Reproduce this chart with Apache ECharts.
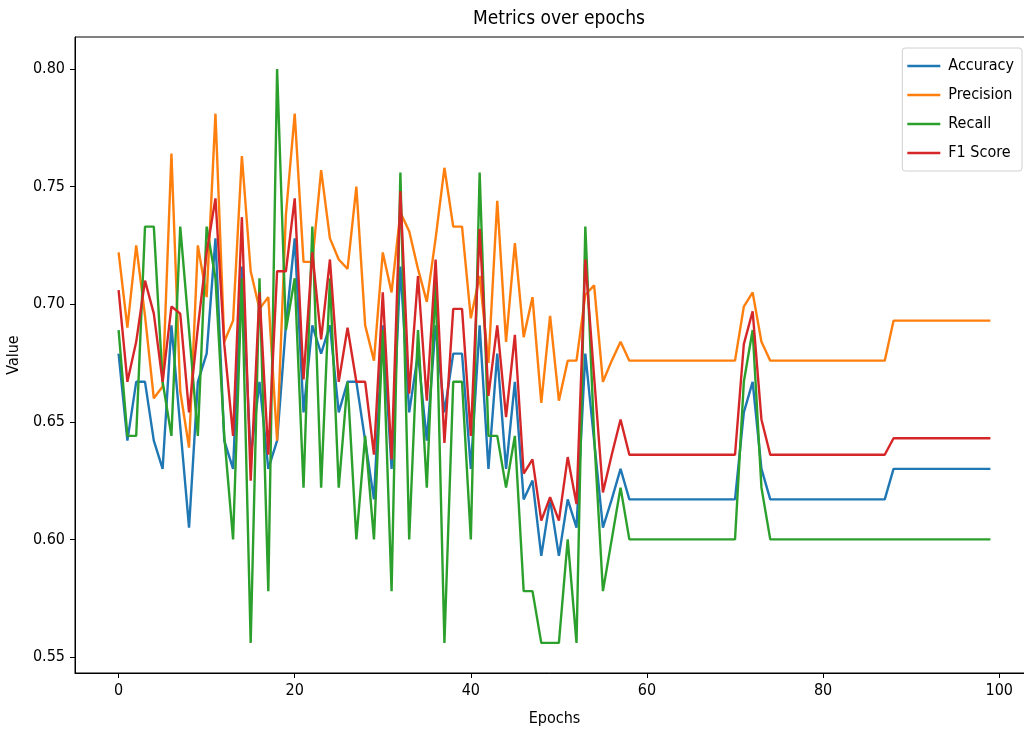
<!DOCTYPE html>
<html>
<head>
<meta charset="utf-8">
<title>Metrics over epochs</title>
<script src="https://cdn.jsdelivr.net/npm/echarts@6/dist/echarts.min.js"></script>
<style>
  html, body { margin: 0; padding: 0; background: #fff; }
  #chart { width: 1024px; height: 734px; }
</style>
</head>
<body>
<div id="chart"></div>
<script>
// values, one per epoch (0..99)
const seriesNames = ['Accuracy', 'Precision', 'Recall', 'F1 Score'];
const seriesColors = ['#1f77b4', '#ff7f0e', '#2ca02c', '#d62728'];

const accuracy = [
  0.679, 0.642, 0.667, 0.667, 0.642, 0.630, 0.691, 0.648, 0.605, 0.667,
  0.679, 0.728, 0.642, 0.630, 0.716, 0.635, 0.667, 0.630, 0.642, 0.691,
  0.728, 0.654, 0.691, 0.679, 0.691, 0.654, 0.667, 0.667, 0.642, 0.617,
  0.691, 0.630, 0.716, 0.654, 0.679, 0.642, 0.691, 0.654, 0.679, 0.679,
  0.630, 0.691, 0.630, 0.679, 0.630, 0.667, 0.617, 0.625, 0.593, 0.617,
  0.593, 0.617, 0.605, 0.679, 0.642, 0.605, 0.617, 0.630, 0.617, 0.617,
  0.617, 0.617, 0.617, 0.617, 0.617, 0.617, 0.617, 0.617, 0.617, 0.617,
  0.617, 0.654, 0.667, 0.630, 0.617, 0.617, 0.617, 0.617, 0.617, 0.617,
  0.617, 0.617, 0.617, 0.617, 0.617, 0.617, 0.617, 0.617, 0.630, 0.630,
  0.630, 0.630, 0.630, 0.630, 0.630, 0.630, 0.630, 0.630, 0.630, 0.630
];

const precision = [
  0.722, 0.690, 0.725, 0.695, 0.660, 0.665, 0.764, 0.663, 0.639, 0.725,
  0.703, 0.781, 0.684, 0.693, 0.763, 0.714, 0.698, 0.703, 0.642, 0.738,
  0.781, 0.718, 0.718, 0.757, 0.728, 0.719, 0.715, 0.750, 0.691, 0.676,
  0.722, 0.705, 0.739, 0.731, 0.715, 0.701, 0.728, 0.758, 0.733, 0.733,
  0.694, 0.712, 0.675, 0.744, 0.684, 0.726, 0.686, 0.703, 0.658, 0.695,
  0.659, 0.676, 0.676, 0.704, 0.708, 0.667, 0.676, 0.684, 0.676, 0.676,
  0.676, 0.676, 0.676, 0.676, 0.676, 0.676, 0.676, 0.676, 0.676, 0.676,
  0.676, 0.699, 0.705, 0.684, 0.676, 0.676, 0.676, 0.676, 0.676, 0.676,
  0.676, 0.676, 0.676, 0.676, 0.676, 0.676, 0.676, 0.676, 0.693, 0.693,
  0.693, 0.693, 0.693, 0.693, 0.693, 0.693, 0.693, 0.693, 0.693, 0.693
];

const recall = [
  0.689, 0.644, 0.644, 0.733, 0.733, 0.667, 0.644, 0.733, 0.689, 0.644,
  0.733, 0.711, 0.644, 0.600, 0.711, 0.556, 0.711, 0.578, 0.800, 0.689,
  0.711, 0.622, 0.733, 0.622, 0.711, 0.622, 0.667, 0.600, 0.644, 0.600,
  0.689, 0.578, 0.756, 0.600, 0.689, 0.622, 0.711, 0.556, 0.667, 0.667,
  0.600, 0.756, 0.644, 0.644, 0.622, 0.644, 0.578, 0.578, 0.556, 0.556,
  0.556, 0.600, 0.556, 0.733, 0.644, 0.578, 0.600, 0.622, 0.600, 0.600,
  0.600, 0.600, 0.600, 0.600, 0.600, 0.600, 0.600, 0.600, 0.600, 0.600,
  0.600, 0.667, 0.689, 0.622, 0.600, 0.600, 0.600, 0.600, 0.600, 0.600,
  0.600, 0.600, 0.600, 0.600, 0.600, 0.600, 0.600, 0.600, 0.600, 0.600,
  0.600, 0.600, 0.600, 0.600, 0.600, 0.600, 0.600, 0.600, 0.600, 0.600
];

const f1Score = [
  0.706, 0.667, 0.684, 0.710, 0.696, 0.667, 0.699, 0.696, 0.654, 0.690,
  0.722, 0.745, 0.683, 0.644, 0.737, 0.625, 0.705, 0.636, 0.714, 0.714,
  0.745, 0.668, 0.722, 0.685, 0.719, 0.667, 0.690, 0.667, 0.667, 0.636,
  0.705, 0.634, 0.748, 0.662, 0.712, 0.659, 0.719, 0.641, 0.698, 0.698,
  0.644, 0.732, 0.661, 0.691, 0.652, 0.687, 0.628, 0.634, 0.608, 0.618,
  0.608, 0.635, 0.615, 0.719, 0.669, 0.620, 0.636, 0.651, 0.636, 0.636,
  0.636, 0.636, 0.636, 0.636, 0.636, 0.636, 0.636, 0.636, 0.636, 0.636,
  0.636, 0.683, 0.697, 0.651, 0.636, 0.636, 0.636, 0.636, 0.636, 0.636,
  0.636, 0.636, 0.636, 0.636, 0.636, 0.636, 0.636, 0.636, 0.643, 0.643,
  0.643, 0.643, 0.643, 0.643, 0.643, 0.643, 0.643, 0.643, 0.643, 0.643
];

const xTicks = [0, 20, 40, 60, 80, 100];
const yTicks = [0.55, 0.60, 0.65, 0.70, 0.75, 0.80];

document.addEventListener('DOMContentLoaded', function(){
  const font = '"DejaVu Sans Condensed", "DejaVu Sans", sans-serif';
  const chart = echarts.init(document.getElementById('chart'), null, { renderer: 'canvas' });

  const allValues = [accuracy, precision, recall, f1Score];

  // matplotlib style 5% margins around the data range
  const xMin = -4.95, xMax = 103.95;
  const yMin = 0.5432, yMax = 0.8136;

  const series = allValues.map(function(vals, i){
    return {
      name: seriesNames[i],
      type: 'line',
      showSymbol: false,
      symbol: 'none',
      data: vals.map(function(v, k){ return [k, v]; }),
      lineStyle: { width: 2.4, color: seriesColors[i] },
      itemStyle: { color: seriesColors[i] },
      emphasis: { disabled: true }
    };
  });

  const option = {
    animation: false,
    backgroundColor: '#fff',
    title: {
      text: 'Metrics over epochs',
      left: 554,
      top: 5,
      textAlign: 'center',
      textStyle: { color: '#000', fontSize: 19, fontWeight: 'normal', fontFamily: font }
    },
    legend: {
      orient: 'vertical',
      right: 2,
      top: 48,
      padding: [9, 8, 9, 5],
      itemGap: 11,
      itemWidth: 33,
      itemHeight: 2.5,
      icon: 'rect',
      backgroundColor: 'rgba(255,255,255,0.8)',
      borderColor: '#d0d0d0',
      borderWidth: 1,
      borderRadius: 3,
      data: seriesNames,
      textStyle: { color: '#000', fontSize: 16, lineHeight: 18, fontFamily: font, padding: [0, 0, 0, 3] }
    },
    grid: {
      show: true,
      left: 75,
      top: 37,
      right: -10,
      bottom: 61,
      borderColor: '#000',
      borderWidth: 1,
      containLabel: false,
      outerBoundsMode: 'none'
    },
    xAxis: {
      type: 'value',
      min: xMin,
      max: xMax,
      name: 'Epochs',
      nameLocation: 'middle',
      nameGap: 38,
      nameTextStyle: { color: '#000', fontSize: 16, fontFamily: font },
      axisLine: { show: true, onZero: false, lineStyle: { color: '#000', width: 1 } },
      axisTick: { show: true, length: 5, customValues: xTicks, lineStyle: { color: '#000' } },
      axisLabel: { customValues: xTicks, color: '#000', fontSize: 16, margin: 10, fontFamily: font },
      splitLine: { show: false }
    },
    yAxis: {
      type: 'value',
      min: yMin,
      max: yMax,
      name: 'Value',
      nameLocation: 'middle',
      nameGap: 50,
      nameTextStyle: { color: '#000', fontSize: 16, fontFamily: font },
      axisLine: { show: true, onZero: false, lineStyle: { color: '#000', width: 1 } },
      axisTick: { show: true, length: 5, customValues: yTicks, lineStyle: { color: '#000' } },
      axisLabel: {
        customValues: yTicks,
        color: '#000',
        fontSize: 16,
        margin: 10,
        fontFamily: font,
        formatter: function(v){ return v.toFixed(2); }
      },
      splitLine: { show: false }
    },
    series: series
  };

  chart.setOption(option);
});
</script>
</body>
</html>
